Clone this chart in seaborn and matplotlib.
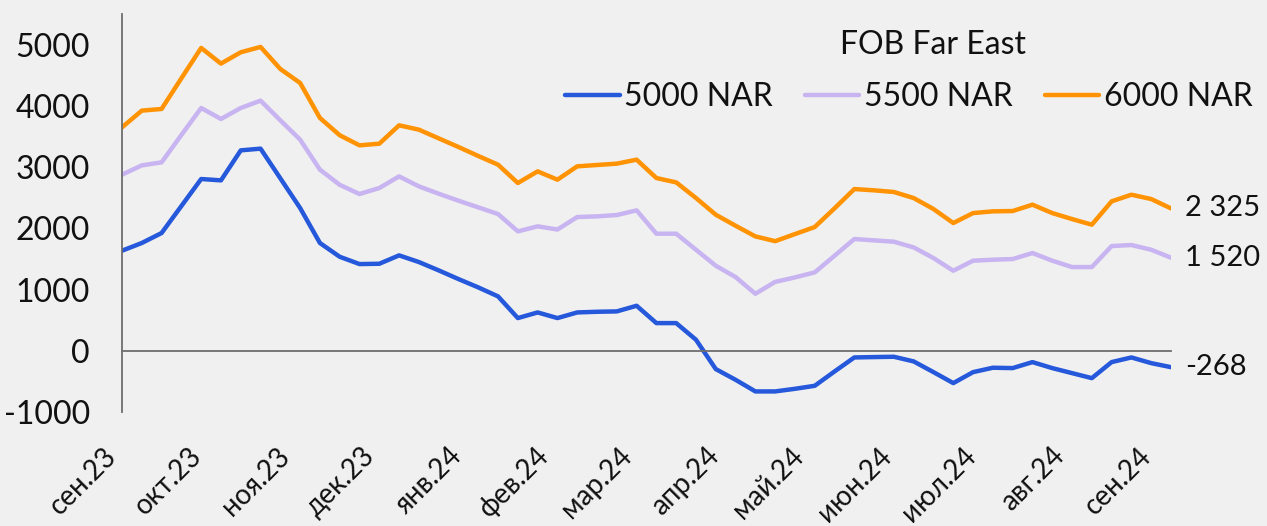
import matplotlib
matplotlib.use("Agg")
import matplotlib.pyplot as plt
import seaborn as sns
import pandas as pd
import numpy as np

# ---- data ----
dates = pd.date_range("2023-09-01", periods=54, freq="7D")
series_names = ["5000 NAR", "5500 NAR", "6000 NAR"]
nar5000 = [1634, 1760, 1923, 2364, 2805, 2783, 3273, 3301, 2816, 2331,
           1760, 1535, 1416, 1421, 1558, 1449, 1313, 1171, 1035, 888,
           534, 626, 534, 626, 637, 643, 735, 452, 452, 180,
           -299, -474, -664, -664, -621, -572, -338, -109, -103, -98,
           -174, -349, -528, -349, -277, -283, -185, -283, -365, -447,
           -185, -109, -202, -268]
nar5500 = [2876, 3028, 3077, 3524, 3965, 3786, 3965, 4085, 3763, 3448,
           2958, 2710, 2560, 2658, 2848, 2685, 2565, 2451, 2342, 2233,
           1950, 2032, 1980, 2184, 2195, 2217, 2293, 1912, 1912, 1650,
           1389, 1204, 931, 1125, 1198, 1280, 1552, 1825, 1803, 1781,
           1688, 1514, 1307, 1471, 1487, 1498, 1596, 1471, 1367, 1367,
           1710, 1727, 1650, 1520]
nar6000 = [3649, 3922, 3949, 4450, 4946, 4690, 4875, 4962, 4602, 4374,
           3802, 3520, 3355, 3382, 3682, 3611, 3469, 3328, 3181, 3039,
           2740, 2930, 2794, 3012, 3034, 3056, 3121, 2821, 2750, 2495,
           2222, 2042, 1868, 1790, 1906, 2021, 2326, 2641, 2620, 2593,
           2494, 2315, 2086, 2249, 2277, 2282, 2386, 2249, 2151, 2059,
           2440, 2549, 2478, 2325]
month_ticks = ["2023-09-01", "2023-10-01", "2023-11-01", "2023-12-01", "2024-01-01",
               "2024-02-01", "2024-03-01", "2024-04-01", "2024-05-01", "2024-06-01",
               "2024-07-01", "2024-08-01", "2024-09-01"]
month_labels = ["сен.23", "окт.23", "ноя.23", "дек.23", "янв.24", "фев.24", "мар.24",
                "апр.24", "май.24", "июн.24", "июл.24", "авг.24", "сен.24"]
y_ticks = [-1000, 0, 1000, 2000, 3000, 4000, 5000]
legend_title = "FOB Far East"
colors = ["#2558DA", "#C7B4F0", "#FF9303"]

df = pd.DataFrame({
    "date": np.concatenate([dates] * 3),
    "value": nar5000 + nar5500 + nar6000,
    "series": np.repeat(series_names, len(dates)),
})

# ---- style ----
bg = "#F0F0F0"
fs = 23
sns.set_theme(style="white")
plt.rcParams["font.family"] = ["Lato", "DejaVu Sans"]
plt.rcParams["text.color"] = "#111111"

fig = plt.figure(figsize=(12.67, 5.26), dpi=100, facecolor=bg)
ax = fig.add_axes([122 / 1267, 1 - 412 / 526, (1171 - 122) / 1267, (412 - 14) / 526])
ax.set_facecolor(bg)

sns.lineplot(data=df, x="date", y="value", hue="series", palette=colors,
             linewidth=3.2, ax=ax, legend=True)

ax.set_xlim(pd.Timestamp("2023-09-01"), dates[-1])
ax.set_ylim(-1000, 5500)
ax.set_xlabel("")
ax.set_ylabel("")

# y axis
ax.set_yticks(y_ticks)
ax.set_yticklabels([str(v) for v in y_ticks])
ax.tick_params(axis="y", length=0, pad=23, labelsize=fs, labelcolor="#111111")
for s in ["top", "right"]:
    ax.spines[s].set_visible(False)
ax.spines["left"].set_color("#6E6E6E")
ax.spines["left"].set_linewidth(1.3)

# x axis line at zero with month ticks, labels at bottom
tick_dates = [pd.Timestamp(t) for t in month_ticks]
ax.spines["bottom"].set_position(("data", 0))
ax.spines["bottom"].set_color("#6E6E6E")
ax.spines["bottom"].set_linewidth(1.3)
ax.set_xticks(tick_dates)
ax.tick_params(axis="x", direction="out", length=8, width=1.2, color="#222222",
               labelbottom=False)

sec = ax.secondary_xaxis("bottom")
sec.set_xticks(tick_dates)
sec.set_xticklabels(month_labels, rotation=45, ha="right", rotation_mode="default")
sec.tick_params(axis="x", length=0, pad=22, labelsize=20, labelcolor="#111111")
sec.spines["bottom"].set_visible(False)

# legend
handles, labels = ax.get_legend_handles_labels()
ax.legend(handles, labels, ncol=3, frameon=False, fontsize=fs,
          loc="center", bbox_to_anchor=(909 / 1267, 1 - 97 / 526),
          bbox_transform=fig.transFigure, handlelength=1.7, handletextpad=0.15,
          columnspacing=1.0, borderpad=0)
fig.text(933 / 1267, 1 - 45 / 526, legend_title, ha="center", va="center", fontsize=fs)

# end labels
def fmt(v):
    return f"{v:,}".replace(",", " ")

for vals in [nar6000, nar5500, nar5000]:
    ax.annotate(fmt(vals[-1]), xy=(dates[-1], vals[-1]), xytext=(10, 0),
                textcoords="offset points", ha="left", va="center", fontsize=21,
                annotation_clip=False)

fig.savefig("out.png", dpi=100, facecolor=bg)
